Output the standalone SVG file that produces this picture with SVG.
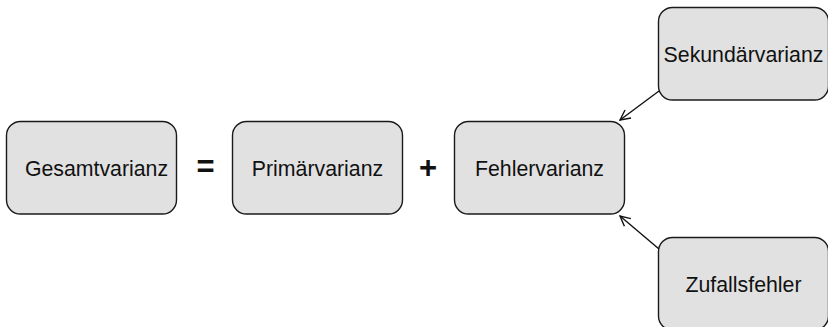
<svg xmlns="http://www.w3.org/2000/svg" width="828" height="327" viewBox="0 0 828 327">
<style>
.n rect{fill:#e1e1e1;stroke:#1a1a1a;stroke-width:1.4}
.n text{font-family:"Liberation Sans",Arial,sans-serif;font-size:21.3px;fill:#111;text-anchor:middle}
.op{font-family:"Liberation Sans",Arial,sans-serif;font-size:31px;font-weight:bold;fill:#111;text-anchor:middle}
.c line{stroke:#111;stroke-width:1.4;fill:none}
</style>
<defs>
<marker id="ah" viewBox="0 0 12 12" refX="11" refY="6" markerWidth="12" markerHeight="12" markerUnits="userSpaceOnUse" orient="auto">
<path d="M1,1 L11,6 L1,11" fill="none" stroke="#111" stroke-width="1.4"/>
</marker>
</defs>
<rect width="828" height="327" fill="#fff"/>
<g id="gesamt" class="n"><rect x="6.5" y="121.5" width="170" height="92.5" rx="14"/><text x="96.5" y="176">Gesamtvarianz</text></g>
<g id="primaer" class="n"><rect x="232.5" y="121.5" width="170" height="92.5" rx="14"/><text x="317.5" y="176">Primärvarianz</text></g>
<g id="fehler" class="n"><rect x="454.5" y="121.5" width="170" height="92.5" rx="14"/><text x="539.5" y="176">Fehlervarianz</text></g>
<g id="sekundaer" class="n"><rect x="658.5" y="7.5" width="170" height="92.5" rx="14"/><text x="743.5" y="62">Sekundärvarianz</text></g>
<g id="zufall" class="n"><rect x="658.5" y="237.5" width="170" height="92.5" rx="14"/><text x="743.5" y="292">Zufallsfehler</text></g>
<text class="op" x="205.5" y="177">=</text>
<text class="op" x="428" y="178">+</text>
<g id="connectors" class="c">
<line x1="659" y1="91" x2="620" y2="120" marker-end="url(#ah)"/>
<line x1="659" y1="249" x2="620" y2="216" marker-end="url(#ah)"/>
</g>
</svg>
